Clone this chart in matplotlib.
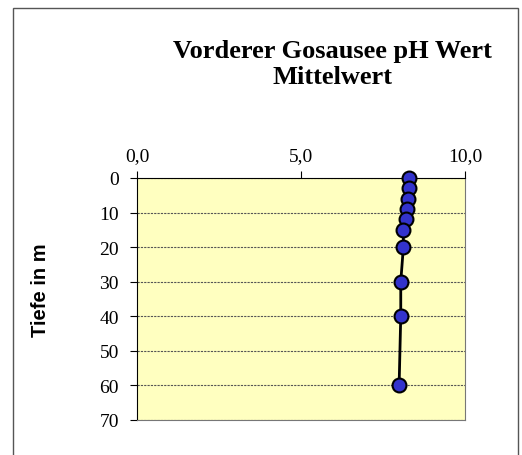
import numpy as np
import matplotlib.pyplot as plt
from matplotlib.patches import Rectangle
from matplotlib.ticker import FuncFormatter

# Messwerte: Tiefe (m) und pH-Mittelwert
tiefe = [0, 3, 6, 9, 12, 15, 20, 30, 40, 60]
ph_wert = [8.29, 8.29, 8.26, 8.22, 8.19, 8.12, 8.12, 8.04, 8.04, 7.99]

x_ticks = [0, 5, 10]
y_ticks = [0, 10, 20, 30, 40, 50, 60, 70]

fig = plt.figure(figsize=(5.22, 4.56), dpi=100)
fig.patches.append(Rectangle((13 / 522, -0.01), 505 / 522, 1 - 9 / 456 + 0.01,
                             transform=fig.transFigure, fill=False,
                             edgecolor='#555555', linewidth=1.0))

ax = fig.add_axes([0.2625, 0.0768, 0.6284, 0.5307])
ax.set_facecolor('#FFFFC0')

ax.plot(ph_wert, tiefe, color='black', linewidth=2, zorder=3, clip_on=False,
        marker='o', markersize=10, markerfacecolor='#3333CC',
        markeredgecolor='black', markeredgewidth=1.5)

ax.set_xlim(0, 10)
ax.set_ylim(70, 0)
ax.set_xticks(x_ticks)
ax.set_yticks(y_ticks)
ax.xaxis.tick_top()
ax.xaxis.set_major_formatter(FuncFormatter(lambda v, p: f'{v:.1f}'.replace('.', ',')))

serif = 'Liberation Serif'
ax.tick_params(axis='both', direction='out', length=5, width=0.8, labelsize=14)
ax.tick_params(axis='x', pad=5)
ax.tick_params(axis='y', pad=8)
for lbl in ax.get_xticklabels() + ax.get_yticklabels():
    lbl.set_fontfamily(serif)

ax.yaxis.grid(True, linestyle=(0, (2, 1)), color='#555555', linewidth=0.8)
ax.set_axisbelow(True)

ax.spines['top'].set_color('black')
ax.spines['left'].set_color('black')
ax.spines['right'].set_color('#777777')
ax.spines['bottom'].set_color('#777777')

fig.text(40 / 522, 1 - 290 / 456, 'Tiefe in m', rotation=90, ha='center',
         va='center', fontfamily='Liberation Sans', fontweight='bold',
         fontsize=14.5)

fig.text(0.637, 1 - 58 / 456, 'Vorderer Gosausee pH Wert', ha='center',
         va='baseline', fontfamily=serif, fontweight='bold', fontsize=19)
fig.text(0.637, 1 - 84 / 456, 'Mittelwert', ha='center',
         va='baseline', fontfamily=serif, fontweight='bold', fontsize=19)

fig.savefig('out.png', dpi=100)
